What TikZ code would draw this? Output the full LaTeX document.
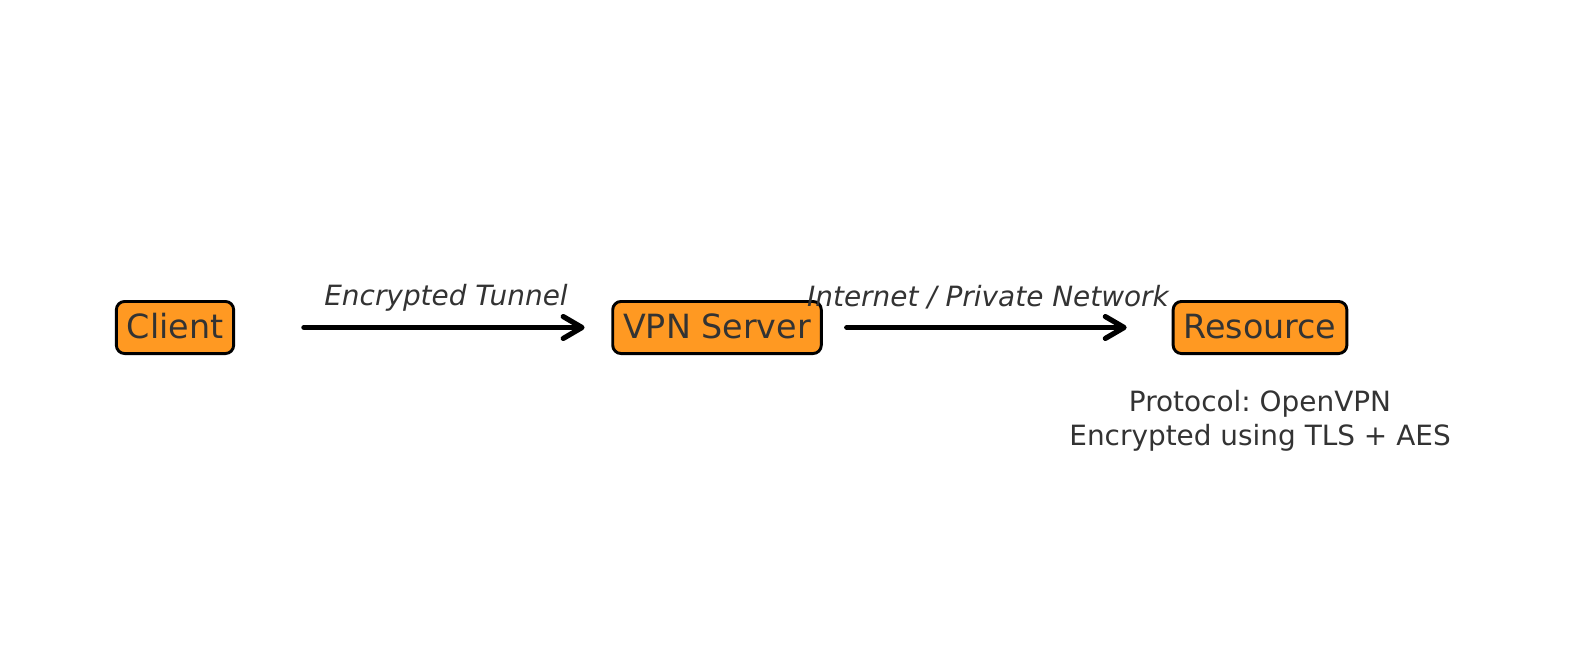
\documentclass[tikz,border=0pt]{standalone}
\usepackage{fontspec}
\setmainfont{DejaVu Sans}
\usetikzlibrary{arrows.meta}
\definecolor{boxorange}{RGB}{255,153,34}
\definecolor{txtgray}{RGB}{51,51,51}
\frenchspacing
\begin{document}
\begin{tikzpicture}[x=0.48pt,y=-0.48pt,lbl/.style={font=\fontsize{13.4}{16}\selectfont\itshape,text=txtgray,anchor=base,inner sep=0pt}]
    \tikzstyle{box} = [draw, rounded corners=4pt, fill=boxorange, line width=1.4pt, text=txtgray, font=\fontsize{16}{19}\selectfont, minimum height=25pt, text height=12.2pt, text depth=2.1pt, inner xsep=5pt]
    \tikzstyle{link} = [-{Straight Barb[length=9pt,width=10.5pt,round]}, line width=2.5pt, line cap=round]
    \tikzstyle{note} = [font=\fontsize{13.4}{16}\selectfont, text=txtgray, align=center, anchor=base, inner sep=0pt]
    \useasboundingbox (0,0) rectangle (1589,656);
        % boxes
        \node[box] (client) at (175,327.5) {Client};
        \node[box] (vpn) at (717,327.5) {VPN Server};
        \node[box] (res) at (1260,327.5) {Resource};
        % arrows
        \draw[link,shorten <=33pt,shorten >=12.8pt] (client) -- (vpn);
        \draw[link,shorten <=11.5pt,shorten >=21.6pt] (vpn) -- (res);
        %%% labels
        \node[lbl] (tunnel) at (446,305) {Encrypted Tunnel};
        \node[lbl] (net) at (988,306) {Internet / Private Network};
        % note under resource
        \node[note] (proto) at (1260,445) {Protocol: OpenVPN\\Encrypted using TLS + AES};
\end{tikzpicture}
\end{document}
